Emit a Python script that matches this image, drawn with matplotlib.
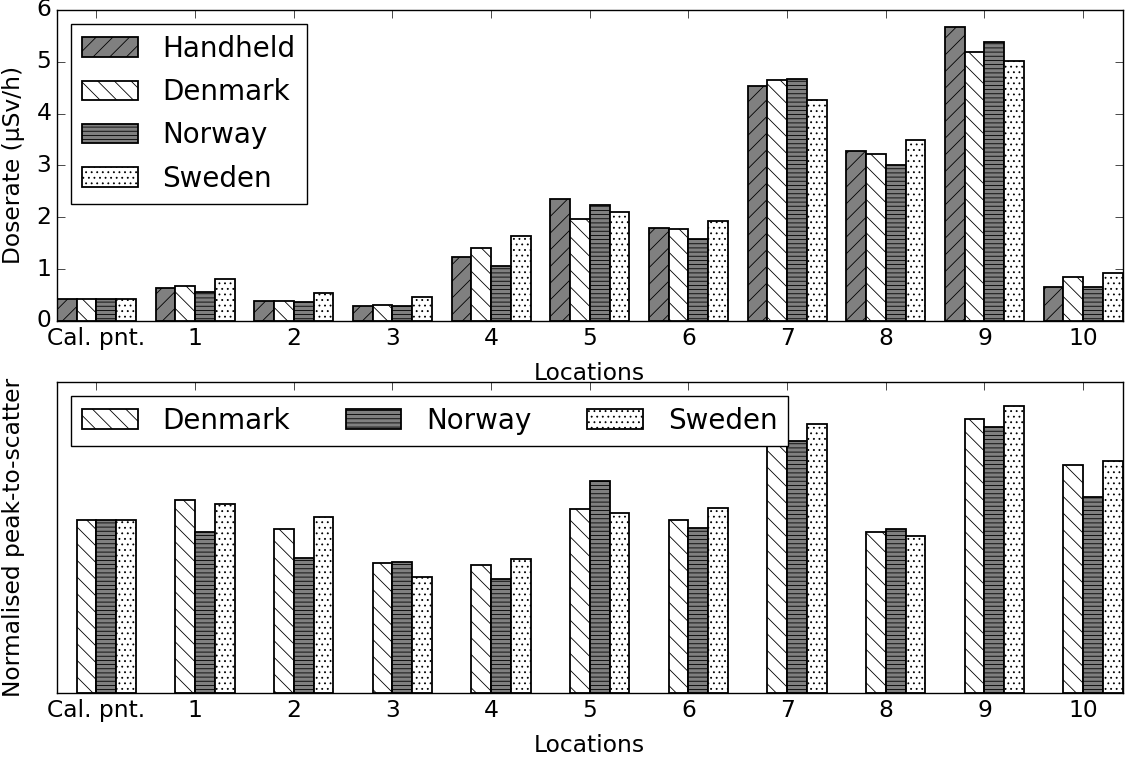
import numpy as np
import matplotlib
matplotlib.use('Agg')
import matplotlib.pyplot as plt

plt.style.use('classic')
plt.rcParams['figure.facecolor'] = 'white'
plt.rcParams['savefig.facecolor'] = 'white'
plt.rcParams['font.family'] = ['DejaVu Sans']
plt.rcParams['hatch.linewidth'] = 0.6
plt.rcParams['hatch.color'] = 'black'

locations = ['Cal. pnt.', '1', '2', '3', '4', '5', '6', '7', '8', '9', '10']

# doserate (uSv/h)
handheld = [0.42, 0.63, 0.38, 0.29, 1.24, 2.35, 1.79, 4.54, 3.28, 5.66, 0.66]
denmark_dose = [0.42, 0.68, 0.38, 0.30, 1.40, 1.96, 1.78, 4.65, 3.22, 5.19, 0.85]
norway_dose = [0.42, 0.56, 0.36, 0.29, 1.06, 2.23, 1.58, 4.67, 3.01, 5.38, 0.66]
sweden_dose = [0.42, 0.81, 0.53, 0.47, 1.64, 2.10, 1.92, 4.27, 3.49, 5.01, 0.92]

# normalised peak-to-scatter
denmark_p2s = [1.0, 1.117, 0.95, 0.75, 0.74, 1.065, 1.0, 1.44, 0.93, 1.586, 1.32]
norway_p2s = [1.0, 0.93, 0.78, 0.76, 0.66, 1.227, 0.955, 1.458, 0.95, 1.54, 1.134]
sweden_p2s = [1.0, 1.094, 1.02, 0.67, 0.775, 1.04, 1.07, 1.556, 0.91, 1.66, 1.343]

styles = {
    'Handheld': dict(color='#808080', hatch='//'),
    'Denmark': dict(color='white', hatch='\\\\'),
    'Norway': dict(color='#808080', hatch='----'),
    'Sweden': dict(color='white', hatch='...'),
}

x = np.arange(len(locations))
w = 0.2
fs = 16.8
leg_kw = dict(loc='upper left', fontsize=20, labelspacing=0.55, handletextpad=0.9)

fig = plt.figure(figsize=(11.26, 7.57), dpi=100)
ax1 = fig.add_axes([0.0506, 0.576, 0.9464, 0.411])
ax2 = fig.add_axes([0.0506, 0.0845, 0.9464, 0.411])

top_series = [('Handheld', handheld), ('Denmark', denmark_dose),
              ('Norway', norway_dose), ('Sweden', sweden_dose)]
for k, (name, vals) in enumerate(top_series):
    ax1.bar(x - 0.4 + k * w, vals, width=w, align='edge', edgecolor='black',
            linewidth=1.3, label=name, **styles[name])

bottom_series = [('Denmark', denmark_p2s), ('Norway', norway_p2s),
                 ('Sweden', sweden_p2s)]
for k, (name, vals) in enumerate(bottom_series):
    ax2.bar(x - 0.2 + k * w, vals, width=w, align='edge', edgecolor='black',
            linewidth=1.3, label=name, **styles[name])

for ax in (ax1, ax2):
    ax.set_xlim(-0.4, 10.4)
    ax.set_xticks(x)
    ax.set_xticklabels(locations, fontsize=fs)
    ax.set_xlabel('Locations', fontsize=fs, labelpad=9)
    ax.tick_params(direction='in', length=6)

ax1.set_ylim(0, 6)
ax1.set_yticks(range(7))
ax1.tick_params(axis='y', labelsize=fs)
ax1.set_ylabel('Doserate (µSv/h)', fontsize=fs)
ax1.yaxis.set_label_coords(-0.030, 0.5)
ax1.legend(**leg_kw)

ax2.set_ylim(0, 1.8)
ax2.set_yticks([])
ax2.set_ylabel('Normalised peak-to-scatter', fontsize=fs)
ax2.yaxis.set_label_coords(-0.030, 0.5)
ax2.legend(ncol=3, **leg_kw)

fig.savefig('out.png', dpi=100)
